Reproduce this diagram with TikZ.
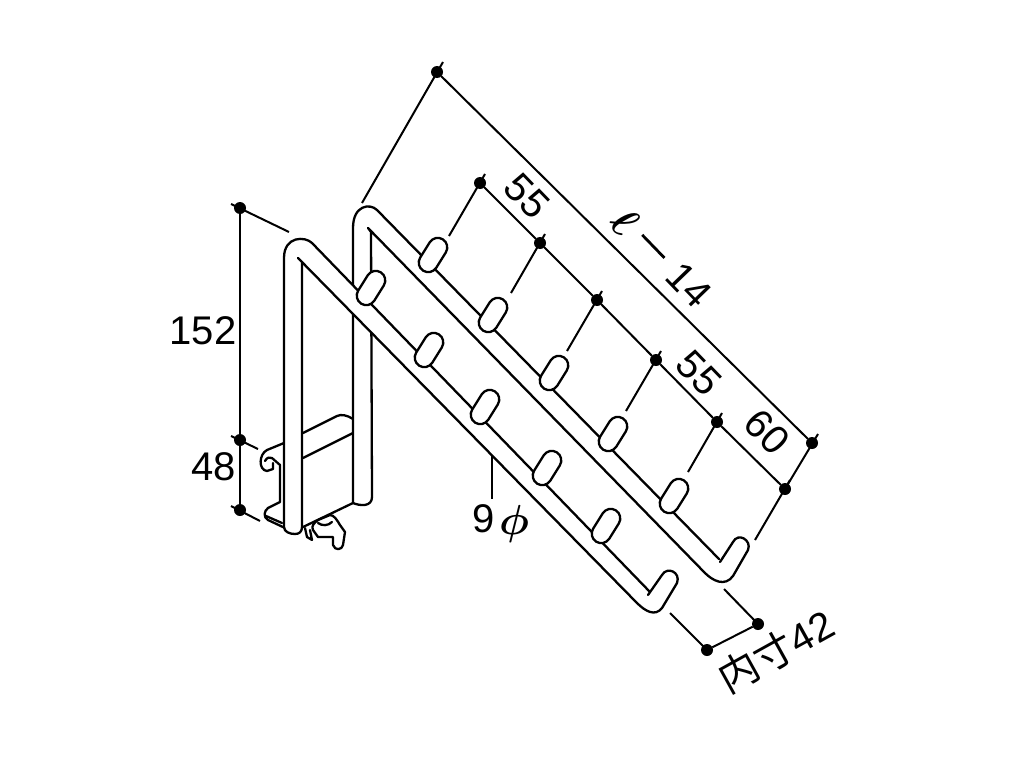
\documentclass[tikz,border=0pt]{standalone}
\usepackage{fontspec}
\setmainfont{Liberation Sans}
\newfontfamily\cjk{Noto Sans CJK JP}
\usetikzlibrary{positioning,calc,shapes.misc}

\begin{document}
\begin{tikzpicture}[
    x=1pt, y=-1pt,
    rail/.style={draw, line width=2.3pt, fill=white, line join=round, line cap=round},
    body/.style={draw, line width=2.3pt, line join=round, line cap=round},
    hook/.style={draw, line width=2.3pt, fill=white, rounded rectangle, minimum width=37pt, minimum height=19pt, inner sep=0pt, outer sep=0pt, rotate=58},
    dot/.style={circle, fill=black, minimum size=12pt, inner sep=0pt, outer sep=0pt},
    dimline/.style={line width=2pt},
    lab/.style={inner sep=0pt, font=\fontsize{40}{40}\selectfont},
    mathlab/.style={inner sep=0pt, scale=4.2, font=\boldmath}
]
\useasboundingbox (0,0) rectangle (1024,768);

% Channel behind the rails
\draw[body] (284,443) -- (267,450) .. controls (259,454) and (258,470) .. (267,471) -- (273,469) -- (273,463);
\draw[body] (265,461) .. controls (267,457) and (270,457) .. (272,458) -- (280,465) -- (280,502) -- (268,508) .. controls (264,511) and (263,517) .. (268,520) -- (285,528);
\draw[body] (266,516) -- (282,523);

% Box
\draw[body] (303,433) -- (337,416) .. controls (341,414) and (347,415) .. (353,419);
\draw[body] (303,458) -- (353,433);
\draw[body] (303,527) -- (353,503);

% Fixture under the box
\draw[body] (305,528) -- (307,537) -- (312,540) -- (310,530);
\draw[body] (313,530) .. controls (311,526) and (314,523) .. (318,520) -- (330,515) .. controls (334,515) and (337,520) .. (340,525) -- (345,532) -- (343,545) .. controls (342,550) and (335,551) .. (333,545) -- (333,537) -- (318,537) -- (313,530);
\draw[body] (318,523) .. controls (322,526) and (328,526) .. (332,522);

% Rear rail
\draw[rail] (719,559) -- (377,210) .. controls (370,203) and (353,205) .. (353,228) -- (353,503)
    .. controls (360,506) and (372,507) .. (372,497) -- (371,232) -- (368,228) -- (705,573)
    .. controls (713,581) and (725,587) .. (733,576) -- (748,550) .. controls (752,540) and (738,532) .. (733,542) -- (720,562);

% Front rail
\draw[rail] (650,592) -- (312,243) .. controls (305,236) and (284,236) .. (284,258) -- (284,527)
    .. controls (284,532) and (290,534) .. (295,534) .. controls (299,534) and (302,532) .. (302,527) -- (302,262) -- (298,258) -- (637,603)
    .. controls (645,611) and (655,617) .. (662,608) -- (677,583) .. controls (681,572) and (667,566) .. (662,575) -- (648,595);

% Hooks
\foreach \i/\x/\y in {1/433/255, 2/493/315, 3/554/373, 4/613/434, 5/674/496} {
    \node[hook] (rear\i) at (\x,\y) {};
}
\foreach \i/\x/\y in {1/371/288, 2/429/350, 3/485/407, 4/547/468, 5/606/526} {
    \node[hook] (front\i) at (\x,\y) {};
}

% Dimension points
\foreach \n/\x/\y in {topA/437/72, topB/812/443, in0/480/183, in1/540/243, in2/597/300, in3/656/360, in4/717/422, in5/785/489,
    hgA/240/208, hgB/240/440, hgC/240/510, wdA/707/650, wdB/758/624} {
    \node[dot] (\n) at (\x,\y) {};
}

% Witness lines
\foreach \n/\tx/\ty/\ex/\ey in {topA/443/62/362/203, topB/818/434/785/489, in0/485/174/449/236, in1/545/234/511/293, in2/602/291/567/351,
    in3/661/351/626/411, in4/722/413/688/472, in5/790/480/755/540, hgA/231/204/289/232, hgB/231/436/258/449, hgC/231/506/260/521,
    wdA/707/650/670/613, wdB/758/624/724/589} {
    \coordinate (\n t) at (\tx,\ty);
    \coordinate (\n e) at (\ex,\ey);
    \draw[dimline] (\n t) -- (\n e);
}

% Dimension lines
\draw[dimline] (topA) -- (topB);
\draw[dimline] (in0) -- (in1) -- (in2) -- (in3) -- (in4) -- (in5);
\draw[dimline] (hgA) -- (hgB) -- (hgC);
\draw[dimline] (wdA) -- (wdB);
\coordinate (tubeA) at (492,456);
\coordinate (tubeB) at (492,499);
\draw[dimline] (tubeA) -- (tubeB);

% Labels
\node[lab] (lb152) at (203,331) {152};
\node[lab] (lb48) at (214,467) {48};
\node[lab] (lb9) at (484,519) {9};
\node[mathlab] (lbphi) at (514,524) {$\phi$};
\node[mathlab, rotate=-46] (lbell) at (625,222) {$\ell$};
\node[lab, rotate=-46] (lb14) at (673,268) {\rule[0.33em]{0.8em}{0.07em}\hspace{0.35em}14};
\node[lab, rotate=-46] (lb55a) at (527,196) {55};
\node[lab, rotate=-46] (lb55b) at (699,373) {55};
\node[lab, rotate=-46] (lb60) at (767,432) {60};
\node[lab, rotate=29] (lb42) at (776,651) {{\cjk 内寸}42};

\end{tikzpicture}
\end{document}
